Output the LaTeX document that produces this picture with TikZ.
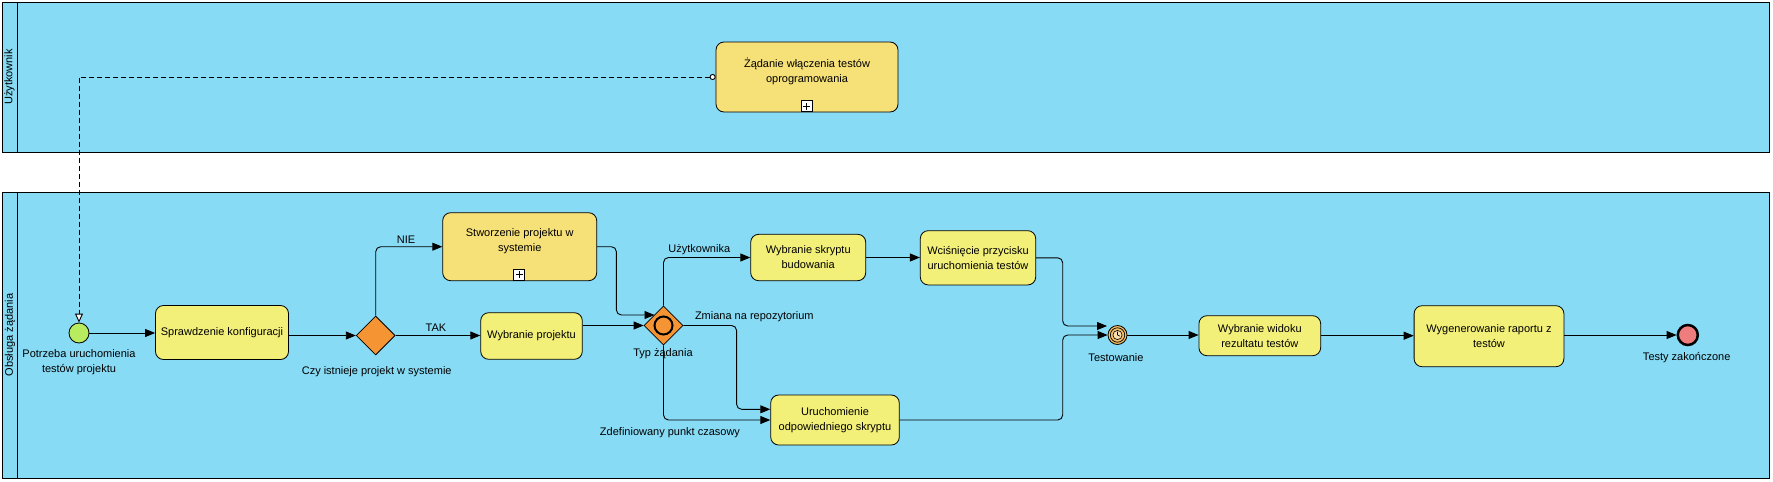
\documentclass[tikz,border=0pt]{standalone}
\usepackage{fontspec}
\setmainfont{Liberation Sans}
\usetikzlibrary{arrows.meta,shapes.geometric,calc}

\definecolor{laneblue}{RGB}{135,219,245}
\definecolor{taskyellow}{RGB}{243,240,122}
\definecolor{subyellow}{RGB}{246,224,120}
\definecolor{gateorange}{RGB}{245,148,50}
\definecolor{startgreen}{RGB}{185,235,95}
\definecolor{endred}{RGB}{240,125,125}
\definecolor{timerorange}{RGB}{245,190,100}

\tikzset{
  plusmk/.pic={
    \draw[fill=white,line width=0.6pt] (-5.5,-5.5) rectangle (5.5,5.5);
    \draw[line width=0.6pt] (0,-3.5) -- (0,3.5) (-3.5,0) -- (3.5,0);
  }
}

\begin{document}
\begin{tikzpicture}[x=1pt,y=-1pt,
  font=\fontsize{11}{15}\selectfont,
  lane/.style={draw=black, line width=0.9pt, fill=laneblue},
  task/.style={draw=black, line width=0.8pt, fill=taskyellow, rounded corners=8pt, align=center, inner sep=0pt},
  sub/.style={task, fill=subyellow},
  gate/.style={diamond, draw=black, line width=0.8pt, fill=gateorange, minimum width=39pt, minimum height=39pt, inner sep=0pt},
  evt/.style={circle, draw=black, line width=0.8pt, inner sep=0pt},
  flow/.style={draw=black, line width=0.9pt, rounded corners=5pt, -{Triangle[length=10pt,width=8pt]}},
  msg/.style={draw=black, line width=0.9pt, dash pattern=on 5pt off 3pt, {Circle[open,fill=white,length=6pt,width=6pt]}-{Triangle[open,fill=white,length=9pt,width=8pt]}},
  lbl/.style={align=center, inner sep=0pt}
]
\useasboundingbox (0,0) rectangle (1773,482);
\fill[white] (0,0) rectangle (1773,482);

% lanes
\draw[lane] (2,2) rectangle (1769,152);
\draw[line width=0.9pt] (17,2) -- (17,152);
\draw[lane] (2,192) rectangle (1769,478);
\draw[line width=0.9pt] (17,192) -- (17,478);
\node[lbl, rotate=90] (lane1) at (9.5,77) {Użytkownik};
\node[lbl, rotate=90] (lane2) at (10,335) {Obsługa żądania};

% lane 1
\node[sub, minimum width=182pt, minimum height=70pt] (zad) at (807,77) {};
\node[lbl] (zadt) at (807,71.5) {Żądanie włączenia testów\\oprogramowania};
\pic at (806.6,106) {plusmk};

% lane 2 nodes
\node[evt, fill=startgreen, minimum size=20pt] (start) at (79,333) {};
\node[lbl] (startl) at (79,362.5) {Potrzeba uruchomienia\\testów projektu};

\node[task, minimum width=133pt, minimum height=54pt] (spr) at (222,332.5) {Sprawdzenie konfiguracji};

\node[gate] (gw1) at (375.7,335.5) {};
\node[lbl] (gw1l) at (376.7,372) {Czy istnieje projekt w systemie};

\node[sub, minimum width=154pt, minimum height=68pt] (stw) at (519.7,246.7) {};
\node[lbl] (stwt) at (519.7,240.8) {Stworzenie projektu w\\systemie};
\pic at (519,274.5) {plusmk};

\node[task, minimum width=101.6pt, minimum height=46.6pt] (wp) at (531.5,336) {Wybranie projektu};

\node[gate] (typ) at (663.5,325.5) {};
\draw[line width=2pt] (typ.center) circle[radius=9];
\node[lbl] (typl) at (663,353.3) {Typ żądania};

\node[task, minimum width=115pt, minimum height=46.4pt] (wsb) at (808.2,257.5) {Wybranie skryptu\\budowania};
\node[task, minimum width=115.4pt, minimum height=54.3pt] (wci) at (978,257.8) {Wciśnięcie przycisku\\uruchomienia testów};
\node[task, minimum width=128.6pt, minimum height=50pt] (uru) at (835,420) {Uruchomienie\\odpowiedniego skryptu};

\node[evt, fill=timerorange, minimum size=19pt] (tim) at (1117.5,335) {};
\draw[line width=0.7pt] (tim.center) circle[radius=7.2];
\draw[line width=0.6pt, fill=timerorange!50!white] (tim.center) circle[radius=4.6];
\draw[line width=0.6pt] (tim.center) -- ++(0,-3.3) (tim.center) -- ++(2.6,1.2);
\node[lbl] (timl) at (1116,357.3) {Testowanie};

\node[task, minimum width=121.7pt, minimum height=40pt] (wwr) at (1259.8,335.7) {Wybranie widoku\\rezultatu testów};
\node[task, minimum width=149.8pt, minimum height=61pt] (wyg) at (1489,336.2) {Wygenerowanie raportu z\\testów};

\node[circle, draw=black, line width=2.5pt, fill=endred, minimum size=20pt, inner sep=0pt] (end) at (1687.8,335) {};
\node[lbl] (endl) at (1686.7,357.3) {Testy zakończone};

% connectors
\draw[msg] (zad.west) -| (start.north);

\draw[flow] (start.east) -- (start.east -| spr.west);
\draw[flow] (spr.east |- gw1.west) -- (gw1.west);
\draw[flow] (gw1.north) |- (stw.west);
\node[lbl] (nie) at (406,239.3) {NIE};
\draw[flow] (gw1.east) -- (gw1.east -| wp.west);
\node[lbl] (tak) at (436,327.7) {TAK};

\coordinate (typin) at (654.5,315);
\draw[flow] (stw.east) -- ++(19.3,0) |- (typin);
\draw[flow] (wp.east |- typ.west) -- (typ.west);

\draw[flow] (typ.north) |- (wsb.west);
\node[lbl] (uzl) at (699.3,249.3) {Użytkownika};
\draw[flow] (typ.east) -- ++(53.2,0) |- ($(uru.west)+(0,-10.7)$);
\node[lbl] (zml) at (754.3,317) {Zmiana na repozytorium};
\draw[flow] (typ.south) |- (uru.west);
\node[lbl] (zdl) at (670,432.3) {Zdefiniowany punkt czasowy};

\draw[flow] (wsb.east) -- (wsb.east -| wci.west);
\coordinate (timin) at (1107,326);
\draw[flow] (wci.east) -- ++(26.6,0) |- (timin);
\draw[flow] (uru.east) -- ++(163,0) |- (tim.west);
\draw[flow] (tim.east) -- (tim.east -| wwr.west);
\draw[flow] (wwr.east) -- (wwr.east -| wyg.west);
\draw[flow] (wyg.east |- end.west) -- (end.west);
\end{tikzpicture}
\end{document}
